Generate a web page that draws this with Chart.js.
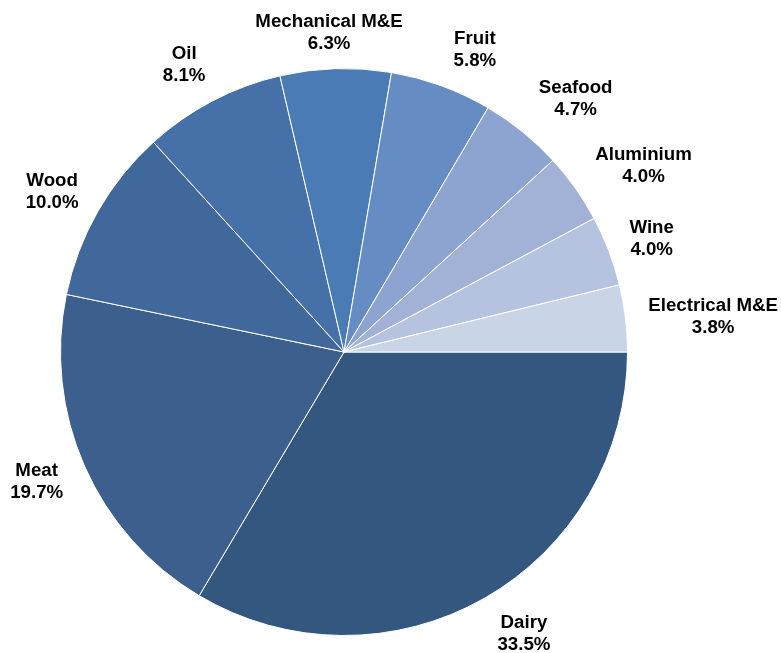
<!DOCTYPE html>
<html>
<head>
<meta charset="utf-8">
<title>Export share by category</title>
<script src="https://cdn.jsdelivr.net/npm/chart.js@4.4.1/dist/chart.umd.min.js"></script>
<style>
  html, body { margin: 0; padding: 0; background: #fff; }
  #wrap { width: 781px; height: 653px; }
</style>
</head>
<body>
<div id="wrap"><canvas id="pie" width="781" height="653"></canvas></div>
<script>
// categories and their share (%), clockwise from 3 o'clock
const categories = ["Dairy", "Meat", "Wood", "Oil", "Mechanical M&E", "Fruit", "Seafood", "Aluminium", "Wine", "Electrical M&E"];
const shares = [33.5, 19.7, 10.0, 8.1, 6.3, 5.8, 4.7, 4.0, 4.0, 3.8];

const sliceColors = ["#34577f", "#3c5f8e", "#41689b", "#4570a8", "#4a7bb4", "#658dc4", "#8ca4cf", "#a1b2d6", "#b6c3e0", "#cad4e7"];

// small pixel nudges for the outside labels [dx, dy]
const labelNudge = [[16, -6], [-4, -4], [-4, 4], [-6, 6], [-5, 12], [17, 9], [23, 4], [29, 5], [-2, 5], [40, 4]];

const outsideLabels = {
  id: "outsideLabels",
  afterDatasetsDraw(chart) {
    const ctx = chart.ctx;
    const meta = chart.getDatasetMeta(0);
    ctx.save();
    ctx.font = "bold 18.7px 'Liberation Sans', Arial, sans-serif";
    ctx.fillStyle = "#000";
    ctx.textAlign = "center";
    ctx.textBaseline = "middle";
    meta.data.forEach((arc, i) => {
      const mid = (arc.startAngle + arc.endAngle) / 2;
      const r = arc.outerRadius + 48;
      const x = arc.x + Math.cos(mid) * r + labelNudge[i][0];
      const y = arc.y + Math.sin(mid) * r + labelNudge[i][1];
      ctx.fillText(categories[i], x, y - 11);
      ctx.fillText(shares[i].toFixed(1) + "%", x, y + 11);
    });
    ctx.restore();
  }
};

new Chart(document.getElementById("pie"), {
  type: "pie",
  data: {
    labels: categories,
    datasets: [{
      data: shares,
      backgroundColor: sliceColors,
      borderColor: "#ffffff",
      borderWidth: 1
    }]
  },
  options: {
    responsive: false,
    animation: false,
    rotation: 90,
    layout: { padding: { left: 60, right: 153, top: 68, bottom: 17 } },
    plugins: {
      legend: { display: false },
      tooltip: { enabled: false }
    }
  },
  plugins: [outsideLabels]
});
</script>
</body>
</html>
